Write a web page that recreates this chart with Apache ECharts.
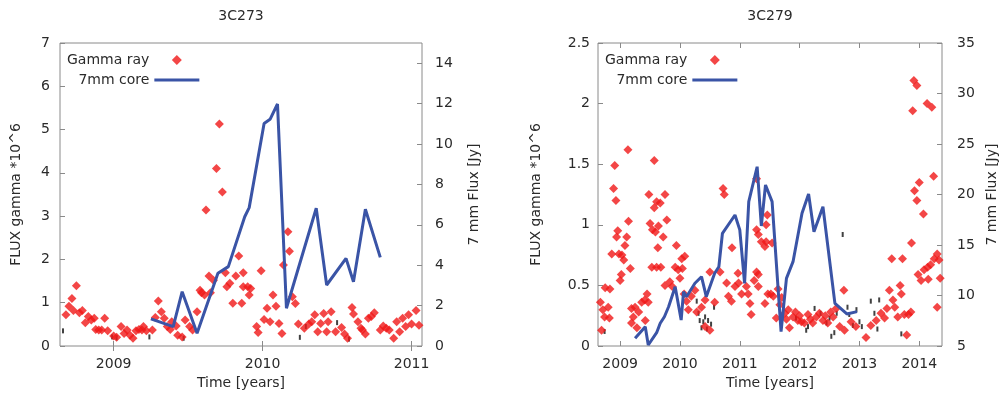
<!DOCTYPE html>
<html>
<head>
<meta charset="utf-8">
<script src="https://cdn.jsdelivr.net/npm/echarts@6/dist/echarts.min.js"></script>
<style>html,body{margin:0;padding:0;background:#fff}#c{width:1005px;height:404px}</style>
</head>
<body>
<div id="c"></div>
<script>
// ---- data ----
const titles = ['3C273', '3C279'];
const ticks273 = [2009, 2010, 2011];
const ticks279 = [2009, 2010, 2011, 2012, 2013, 2014];

const gamma273 = [
[2008.68,0.72],[2008.70,0.92],[2008.72,1.10],[2008.73,0.82],[2008.75,1.39],[2008.77,0.77],[2008.79,0.82],[2008.81,0.54],
[2008.83,0.68],[2008.85,0.60],[2008.87,0.64],[2008.88,0.38],[2008.90,0.37],[2008.92,0.37],[2008.94,0.64],[2008.96,0.35],
[2009.00,0.23],[2009.02,0.20],[2009.05,0.45],[2009.07,0.29],[2009.09,0.37],[2009.11,0.25],[2009.13,0.18],[2009.15,0.35],
[2009.17,0.38],[2009.19,0.37],[2009.20,0.45],[2009.22,0.35],[2009.26,0.37],[2009.28,0.66],[2009.30,1.04],[2009.32,0.79],
[2009.34,0.64],[2009.36,0.45],[2009.38,0.38],[2009.39,0.56],[2009.42,0.46],[2009.43,0.25],[2009.46,0.21],[2009.48,0.60],
[2009.51,0.45],[2009.53,0.37],[2009.56,0.79],[2009.58,1.29],[2009.59,1.23],[2009.61,1.18],[2009.62,3.14],[2009.64,1.62],
[2009.65,1.23],[2009.67,1.52],[2009.69,4.10],[2009.71,5.13],[2009.73,3.56],[2009.75,1.69],[2009.76,1.37],[2009.78,1.45],
[2009.80,0.99],[2009.82,1.62],[2009.84,2.08],[2009.86,0.99],[2009.87,1.69],[2009.87,1.37],[2009.90,1.37],[2009.91,1.18],
[2009.92,1.33],[2009.96,0.45],[2009.97,0.31],[2009.99,1.74],[2010.01,0.61],[2010.03,0.87],[2010.05,0.56],[2010.07,1.18],
[2010.09,0.92],[2010.11,0.52],[2010.13,0.29],[2010.14,1.87],[2010.17,2.64],[2010.18,2.19],[2010.20,1.14],[2010.22,0.98],
[2010.24,0.51],[2010.28,0.41],[2010.31,0.51],[2010.33,0.56],[2010.35,0.72],[2010.37,0.33],[2010.39,0.52],[2010.41,0.75],
[2010.43,0.33],[2010.44,0.56],[2010.46,0.79],[2010.49,0.33],[2010.53,0.43],[2010.55,0.28],[2010.57,0.18],[2010.60,0.89],
[2010.61,0.74],[2010.64,0.56],[2010.66,0.41],[2010.67,0.37],[2010.69,0.28],[2010.71,0.64],[2010.73,0.68],[2010.75,0.77],
[2010.79,0.37],[2010.81,0.46],[2010.83,0.41],[2010.85,0.37],[2010.88,0.18],[2010.90,0.56],[2010.92,0.33],[2010.94,0.64],
[2010.96,0.45],[2010.98,0.72],[2011.00,0.51],[2011.03,0.82],[2011.05,0.48]
];
const core273 = [
[2009.25,1.34],[2009.40,0.96],[2009.46,2.69],[2009.56,0.63],[2009.70,3.60],[2009.77,3.93],[2009.88,6.40],[2009.91,6.85],
[2010.01,11.02],[2010.05,11.22],[2010.10,11.98],[2010.16,1.87],[2010.36,6.82],[2010.43,3.02],[2010.56,4.34],[2010.61,3.18],
[2010.69,6.77],[2010.79,4.39]
];
const black273 = [
[2008.66,0.35],[2008.99,0.21],[2009.02,0.19],[2009.24,0.21],[2009.47,0.18],[2010.25,0.20],[2010.29,0.45],[2010.50,0.54],[2010.58,0.16]
];

const gamma279 = [
[2008.67,0.36],[2008.69,0.13],[2008.71,0.30],[2008.74,0.24],[2008.75,0.48],[2008.80,0.32],[2008.82,0.23],[2008.83,0.47],
[2008.86,0.76],[2008.89,1.30],[2008.91,1.49],[2008.93,1.20],[2008.94,0.90],[2008.96,0.95],[2008.98,0.76],[2009.00,0.54],
[2009.02,0.59],[2009.03,0.75],[2009.06,0.71],[2009.08,0.83],[2009.11,0.90],[2009.13,1.62],[2009.14,1.03],[2009.17,0.64],
[2009.19,0.31],[2009.19,0.19],[2009.22,0.24],[2009.25,0.32],[2009.28,0.15],[2009.31,0.28],[2009.36,0.36],[2009.41,0.38],
[2009.42,0.21],[2009.45,0.43],[2009.47,0.36],[2009.48,1.25],[2009.50,1.01],[2009.53,0.65],[2009.54,0.96],[2009.57,1.53],
[2009.57,1.14],[2009.59,0.94],[2009.61,1.19],[2009.61,0.65],[2009.63,0.81],[2009.64,0.99],[2009.67,1.18],[2009.68,0.65],
[2009.72,0.90],[2009.75,1.25],[2009.75,0.50],[2009.78,1.04],[2009.83,0.53],[2009.87,0.49],[2009.92,0.65],[2009.94,0.83],
[2009.97,0.63],[2010.00,0.56],[2010.03,0.72],[2010.04,0.64],[2010.07,0.43],[2010.08,0.74],[2010.11,0.37],[2010.14,0.30],
[2010.19,0.41],[2010.25,0.46],[2010.28,0.28],[2010.36,0.32],[2010.42,0.38],[2010.42,0.16],[2010.50,0.13],[2010.50,0.61],
[2010.58,0.36],[2010.67,0.61],[2010.72,1.30],[2010.74,1.25],[2010.78,0.52],[2010.81,0.41],[2010.86,0.37],[2010.87,0.81],
[2010.92,0.49],[2010.97,0.60],[2010.98,0.52],[2011.03,0.43],[2011.11,0.49],[2011.14,0.43],[2011.17,0.35],[2011.19,0.26],
[2011.24,0.54],[2011.28,0.61],[2011.28,0.96],[2011.28,1.38],[2011.31,0.49],[2011.31,0.92],[2011.31,0.59],[2011.36,0.86],
[2011.42,0.82],[2011.42,0.35],[2011.44,1.00],[2011.44,0.86],[2011.46,1.08],[2011.47,0.43],[2011.52,0.43],[2011.54,0.85],
[2011.56,0.41],[2011.61,0.23],[2011.64,0.47],[2011.67,0.34],[2011.70,0.40],[2011.75,0.27],[2011.78,0.22],[2011.81,0.30],
[2011.83,0.15],[2011.89,0.24],[2011.93,0.28],[2011.97,0.21],[2012.00,0.25],[2012.03,0.20],[2012.08,0.19],[2012.14,0.26],
[2012.18,0.22],[2012.22,0.19],[2012.28,0.24],[2012.33,0.27],[2012.39,0.21],[2012.43,0.25],[2012.47,0.19],[2012.52,0.28],
[2012.56,0.24],[2012.61,0.31],[2012.67,0.16],[2012.74,0.46],[2012.75,0.13],[2012.86,0.20],[2012.94,0.16],[2013.11,0.07],
[2013.19,0.17],[2013.28,0.21],[2013.36,0.27],[2013.42,0.23],[2013.46,0.31],[2013.50,0.46],[2013.54,0.72],[2013.56,0.38],
[2013.59,0.32],[2013.64,0.24],[2013.68,0.50],[2013.70,0.43],[2013.72,0.72],[2013.75,0.26],[2013.79,0.09],[2013.82,0.26],
[2013.86,0.28],[2013.87,0.85],[2013.89,1.94],[2013.91,2.19],[2013.92,1.28],[2013.96,2.15],[2013.96,1.20],[2013.98,0.59],
[2014.00,1.35],[2014.03,0.54],[2014.07,1.09],[2014.08,0.63],[2014.13,2.00],[2014.14,0.65],[2014.15,0.55],[2014.19,0.67],
[2014.21,1.97],[2014.24,1.40],[2014.25,0.72],[2014.30,0.76],[2014.30,0.32],[2014.33,0.71],[2014.35,0.56]
];
const core279 = [
[2009.25,5.76],[2009.42,6.91],[2009.47,5.10],[2009.61,6.32],[2009.67,7.25],[2009.74,7.90],[2009.81,8.89],[2009.92,10.87],
[2010.02,7.57],[2010.06,10.38],[2010.11,9.88],[2010.25,11.21],[2010.36,11.86],[2010.44,9.88],[2010.58,12.20],[2010.65,12.85],
[2010.71,16.16],[2010.92,17.97],[2011.00,16.50],[2011.08,11.20],[2011.15,19.29],[2011.29,22.75],[2011.36,16.88],[2011.43,20.94],
[2011.54,19.29],[2011.69,6.42],[2011.78,11.70],[2011.89,13.35],[2012.04,18.14],[2012.15,20.05],[2012.24,16.32],[2012.39,18.79],
[2012.59,9.22],[2012.79,8.17],[2012.96,8.40]
];
const black279 = [
[2008.74,0.12],[2010.28,0.37],[2010.31,0.27],[2010.33,0.21],[2010.36,0.15],[2010.39,0.20],[2010.42,0.24],[2010.45,0.14],
[2010.47,0.21],[2010.52,0.18],[2010.57,0.32],[2011.94,0.23],[2012.11,0.13],[2012.14,0.16],[2012.25,0.31],[2012.35,0.27],
[2012.45,0.19],[2012.50,0.23],[2012.53,0.08],[2012.58,0.11],[2012.62,0.27],[2012.72,0.92],[2012.80,0.32],[2012.83,0.26],
[2012.89,0.17],[2012.95,0.30],[2013.00,0.20],[2013.04,0.16],[2013.19,0.37],[2013.25,0.27],[2013.30,0.14],[2013.33,0.38],[2013.70,0.10]
];

// ---- styling ----
const FONT = 'DejaVu Sans';
const TXT = '#2a2a2a';
const AX = '#8a8a8a';
const RED = '#f01818';
const BLUE = '#3a54a6';
const diamondIcon = 'path://M0,5L0.01,5M45,5L45.01,5M22.5,0L27.5,5L22.5,10L17.5,5Z';
const lineIcon = 'path://M0,0L0.01,0M0,3.5L45,3.5L45,6.5L0,6.5ZM0,10L0.01,10';

function xAx(grid, min, max, ticks, top, name) {
  return {
    type: 'value', gridIndex: grid, min: min, max: max, position: top ? 'top' : 'bottom',
    name: top ? '' : name, nameLocation: 'middle', nameGap: 28,
    nameTextStyle: {fontFamily: FONT, fontSize: 14, color: TXT},
    axisLine: {show: false}, splitLine: {show: false},
    axisTick: {show: true, inside: true, length: 5, customValues: ticks, lineStyle: {color: AX}},
    axisLabel: {show: !top, customValues: ticks, margin: 11, fontFamily: FONT, fontSize: 14, color: TXT,
      formatter: v => String(Math.round(v))}
  };
}
function yAx(grid, min, max, interval, right, name, gap, margin) {
  return {
    type: 'value', gridIndex: grid, min: min, max: max, interval: interval, position: right ? 'right' : 'left',
    name: name, nameLocation: 'middle', nameGap: gap, nameRotate: 90,
    nameTextStyle: {fontFamily: FONT, fontSize: 14, color: TXT},
    axisLine: {show: false}, splitLine: {show: false},
    axisTick: {show: true, inside: true, length: 5, lineStyle: {color: AX}},
    axisLabel: {margin: margin, fontFamily: FONT, fontSize: 14, color: TXT, showMaxLabel: !right || max % interval === 0}
  };
}
function legend(left) {
  return {
    left: left, top: 53, orient: 'vertical', align: 'right', itemWidth: 45, itemHeight: 10, itemGap: 6,
    selectedMode: false, padding: 0,
    textStyle: {fontFamily: FONT, fontSize: 14, color: TXT, width: 88},
    itemStyle: {borderWidth: 0},
    data: [{name: 'Gamma ray', icon: diamondIcon}, {name: '7mm core', icon: lineIcon}]
  };
}

const option = {
  animation: false,
  backgroundColor: '#fff',
  title: [
    {text: titles[0], left: 241, top: 9, textAlign: 'center', padding: 0,
     textStyle: {fontFamily: FONT, fontSize: 14, fontWeight: 'normal', color: TXT}},
    {text: titles[1], left: 770, top: 9, textAlign: 'center', padding: 0,
     textStyle: {fontFamily: FONT, fontSize: 14, fontWeight: 'normal', color: TXT}}
  ],
  legend: [legend(67), legend(605)],
  grid: [
    {left: 60, top: 43, width: 362, height: 303, show: true, borderColor: AX, borderWidth: 1, backgroundColor: 'transparent'},
    {left: 598, top: 43, width: 344, height: 303, show: true, borderColor: AX, borderWidth: 1, backgroundColor: 'transparent'}
  ],
  xAxis: [
    xAx(0, 2008.64, 2011.07, ticks273, false, 'Time [years]'),
    xAx(0, 2008.64, 2011.07, ticks273, true),
    xAx(1, 2008.63, 2014.38, ticks279, false, 'Time [years]'),
    xAx(1, 2008.63, 2014.38, ticks279, true)
  ],
  yAxis: [
    yAx(0, 0, 7, 1, false, 'FLUX gamma *10^6', 37, 10),
    yAx(0, 0, 15, 2, true, '7 mm Flux [Jy]', 45, 13),
    yAx(1, 0, 2.5, 0.5, false, 'FLUX gamma *10^6', 55, 8),
    yAx(1, 5, 35, 5, true, '7 mm Flux [Jy]', 43, 15)
  ],
  series: [
    {name: 'black273', type: 'scatter', xAxisIndex: 0, yAxisIndex: 0, data: black273, symbol: 'rect', symbolSize: [2, 5],
     itemStyle: {color: '#111'}, silent: true},
    {name: 'Gamma ray', type: 'scatter', xAxisIndex: 0, yAxisIndex: 0, data: gamma273, symbol: 'diamond', symbolSize: 9,
     itemStyle: {color: RED}},
    {name: '7mm core', type: 'line', xAxisIndex: 0, yAxisIndex: 1, data: core273, symbol: 'none', showSymbol: false,
     lineStyle: {color: BLUE, width: 3}, itemStyle: {color: BLUE}},
    {name: 'black279', type: 'scatter', xAxisIndex: 2, yAxisIndex: 2, data: black279, symbol: 'rect', symbolSize: [2, 5],
     itemStyle: {color: '#111'}, silent: true},
    {name: 'Gamma ray', type: 'scatter', xAxisIndex: 2, yAxisIndex: 2, data: gamma279, symbol: 'diamond', symbolSize: 9,
     itemStyle: {color: RED}},
    {name: '7mm core', type: 'line', xAxisIndex: 2, yAxisIndex: 3, data: core279, symbol: 'none', showSymbol: false,
     lineStyle: {color: BLUE, width: 3}, itemStyle: {color: BLUE}}
  ]
};
const chart = echarts.init(document.getElementById('c'), null, {renderer: 'canvas'});
chart.setOption(option);
</script>
</body>
</html>
